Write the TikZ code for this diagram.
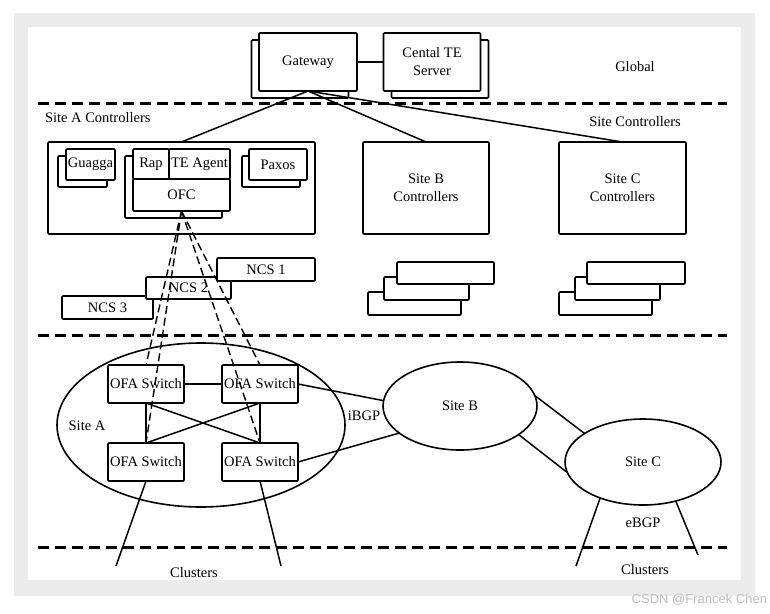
\documentclass[tikz,border=0pt]{standalone}
\usepackage{fontspec}
\setmainfont{Liberation Serif}
\newfontfamily\wmfont{Liberation Sans}
\usetikzlibrary{shapes.geometric}

\begin{document}
\begin{tikzpicture}
[x=1pt,y=-1pt,
every node/.style={font=\fontsize{14.5}{18}\selectfont,inner sep=0pt,outer sep=0pt},
box/.style={draw,fill=white,line width=1.6pt,rounded corners=1pt},
site/.style={draw,ellipse,line width=1.6pt},
sep/.style={line width=3pt,dash pattern=on 11pt off 6pt},
link/.style={line width=1.5pt},
ctrl/.style={line width=1.4pt,dash pattern=on 8pt off 4pt}]
\useasboundingbox (0,0) rectangle (770,613);
\fill[white] (0,0) rectangle (770,613);
\fill[gray!15] (14,13) rectangle (755,596);
\fill[white] (28,27) rectangle (741,580);
\node[anchor=east,text=gray!50,font=\wmfont\fontsize{13}{15}\selectfont] (wm) at (767,600) {CSDN @Francek Chen};

% layer separators
\draw[sep] (38,103) -- (727,103);
\draw[sep] (38,335) -- (727,335);
\draw[sep] (38,547) -- (727,547);

% global
\node[box,minimum width=97,minimum height=58] (gwback) at (300,69) {};
\node[box,minimum width=98,minimum height=58] (gw) at (308,62) {Gateway};
\node[box,minimum width=97,minimum height=58] (teback) at (440,69) {};
\node[box,minimum width=97,minimum height=58,align=center] (te) at (432,62) {Cental TE\\Server};
\node (global) at (635,67) {Global};
\node[anchor=west] (lsitea) at (45,118) {Site A Controllers};
\node (lsites) at (635,122) {Site Controllers};

% site controllers
\node[box,minimum width=267,minimum height=92] (ctla) at (181.5,188) {};
\node[box,minimum width=49,minimum height=31] (guback) at (82.5,171.5) {};
\node[box,minimum width=49,minimum height=31] (guagga) at (90.5,164.5) {Guagga};
\node[box,minimum width=58,minimum height=31] (paback) at (271,171.5) {};
\node[box,minimum width=58,minimum height=31] (paxos) at (278,164.5) {Paxos};
\node[box,minimum width=97,minimum height=62] (ofcback) at (173.5,187) {};
\node[box,minimum width=36,minimum height=30] (rap) at (151,164) {Rap};
\node[box,minimum width=61,minimum height=30] (teagent) at (199.5,164) {TE Agent};
\node[box,minimum width=97,minimum height=32] (ofc) at (181.5,195) {OFC};
\node[box,minimum width=126,minimum height=92,align=center] (ctlb) at (426,188) {Site B\\Controllers};
\node[box,minimum width=127,minimum height=92,align=center] (ctlc) at (622.5,188) {Site C\\Controllers};

% NCS
\node[box,minimum width=91,minimum height=23] (ncs3) at (107.5,307.5) {NCS 3};
\node[box,minimum width=85,minimum height=22] (ncs2) at (188.5,288) {NCS 2};
\node[box,minimum width=98,minimum height=23] (ncs1) at (266,269.5) {NCS 1};
\node[box,minimum width=93,minimum height=23] (nb3) at (414.5,303.5) {};
\node[box,minimum width=85,minimum height=23] (nb2) at (426.5,288.5) {};
\node[box,minimum width=97,minimum height=22] (nb1) at (445.5,273) {};
\node[box,minimum width=93,minimum height=23] (nc3) at (605.5,303.5) {};
\node[box,minimum width=85,minimum height=23] (nc2) at (617.5,288.5) {};
\node[box,minimum width=98,minimum height=22] (nc1) at (636,273) {};

% sites
\node[site,minimum width=288,minimum height=164] (sitea) at (201,425) {};
\node (lsa) at (87,426) {Site A};
\node[site,minimum width=154,minimum height=88] (siteb) at (460,406) {Site B};
\node[site,minimum width=156,minimum height=86] (sitec) at (643,462) {Site C};
\node (ibgp) at (364,416) {iBGP};
\node (ebgp) at (643,523) {eBGP};
\node (cl1) at (194,573) {Clusters};
\node (cl2) at (645,570) {Clusters};

\node[box,minimum width=76,minimum height=38] (tl) at (146,384) {OFA Switch};
\node[box,minimum width=76,minimum height=38] (tr) at (260,384) {OFA Switch};
\node[box,minimum width=76,minimum height=38] (bl) at (146,462) {OFA Switch};
\node[box,minimum width=76,minimum height=38] (br) at (260,462) {OFA Switch};

\coordinate (ca) at (116,566);
\coordinate (cb) at (281,566);
\coordinate (cc) at (576,566);
\coordinate (cd) at (698,555);

\draw[link] (gw.east) -- (te.west);
\foreach \to in {ctla,ctlb,ctlc}
\draw[link] (gw.south) -- (\to.north);
\foreach \from/\to in {tl.east/tr.west,tl.south/bl.north,tr.south/br.north,tl.south/br.north,tr.south/bl.north,tr.east/siteb.176,br.east/siteb.204,siteb.8/sitec.154,siteb.334/sitec.188,bl.south/ca,br.south/cb,sitec.220/cc,sitec.310/cd}
\draw[link] (\from) -- (\to);
\foreach \to in {tl,bl,tr,br}
\draw[ctrl] (ofc.south) -- (\to.north);
\end{tikzpicture}
\end{document}
